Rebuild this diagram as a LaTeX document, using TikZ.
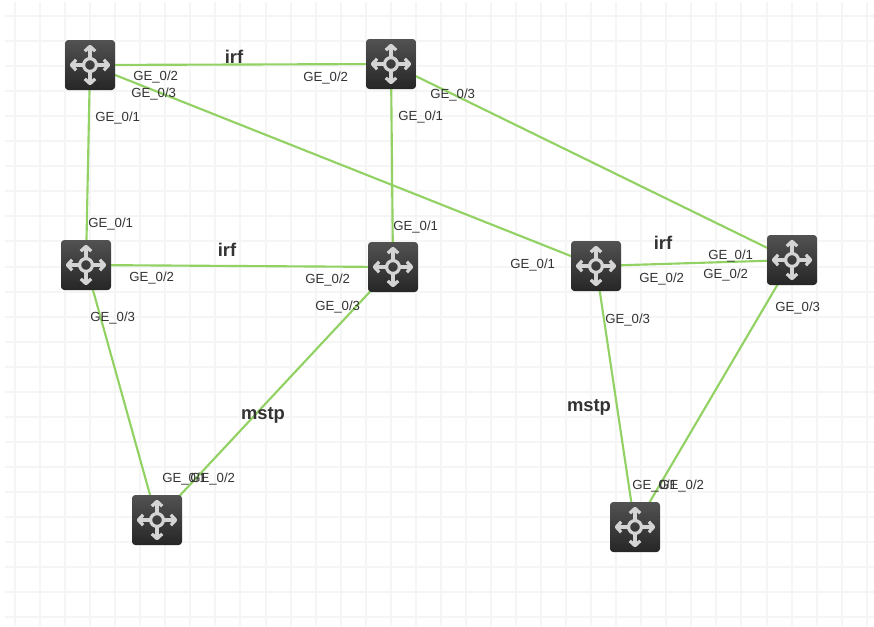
\documentclass[tikz,border=0pt]{standalone}
\usepackage{fontspec}
\setmainfont{Liberation Sans}
\usetikzlibrary{backgrounds}
\definecolor{gridc}{HTML}{F5F5F5}
\definecolor{linkc}{HTML}{92D264}
\definecolor{iconc}{HTML}{D4D4D4}
\definecolor{textc}{HTML}{333333}
\tikzset{
  gridline/.style={gridc,line width=1.5pt},
  link/.style={linkc,line width=1.6pt},
  port/.style={font=\fontsize{9.9}{10}\selectfont,text=textc,inner sep=0pt,yshift=-0.75pt,xshift=0.5pt},
  proto/.style={font=\fontsize{13.8}{14}\selectfont\bfseries,text=textc,inner sep=0pt,yshift=-1.2pt},
  router/.style={minimum size=37.5pt,inner sep=0pt,rounded corners=2.5pt,
    top color=black!68,bottom color=black!85},
  iconpart/.style={iconc,line width=2.4pt,line join=round},
}
\begin{document}
\begin{tikzpicture}[x=0.75pt,y=-0.75pt]
\useasboundingbox (0,0) rectangle (874,626);
\node[router] (a) at (90,65) {};
\node[router] (b) at (391,64) {};
\node[router] (c) at (86,265) {};
\node[router] (d) at (393,267) {};
\node[router] (e) at (596,266) {};
\node[router] (f) at (792,260) {};
\node[router] (g) at (157,520) {};
\node[router] (h) at (635,527) {};
\foreach \n in {a,b,c,d,e,f,g,h}{
  \draw[iconpart] (\n.center) circle (4.8pt);
  \foreach \r in {0,90,180,270}{
    \begin{scope}[shift={(\n.center)},rotate=\r]
      \draw[iconpart] (5.2pt,0pt) -- (13.6pt,0pt);
      \draw[iconpart] (10.4pt,3.9pt) -- (14pt,0pt) -- (10.4pt,-3.9pt);
    \end{scope}
  }
}
\begin{scope}[on background layer]
  \fill[white] (0,0) rectangle (874,626);
  \clip (0,0) rectangle (874,626);
  \foreach \k in {0,...,34}{
    \draw[gridline] ({15+25.05*\k},2) -- ({15+25.05*\k},626);
  }
  \foreach \k in {0,...,24}{
    \draw[gridline] (5,{16+25.05*\k}) -- (874,{16+25.05*\k});
  }
\end{scope}
\begin{scope}[on background layer]
  \draw[link] (a.center) -- (b.center);
  \draw[link] (a.center) -- (c.center);
  \draw[link] (a.center) -- (e.center);
  \draw[link] (b.center) -- (d.center);
  \draw[link] (b.center) -- (f.center);
  \draw[link] (c.center) -- (d.center);
  \draw[link] (c.center) -- (g.center);
  \draw[link] (d.center) -- (g.center);
  \draw[link] (e.center) -- (f.center);
  \draw[link] (e.center) -- (h.center);
  \draw[link] (f.center) -- (h.center);
\end{scope}
\node[port] (l1) at (155,76) {GE\_0/2};
\node[port] (l2) at (153,93) {GE\_0/3};
\node[port] (l3) at (117,117) {GE\_0/1};
\node[proto] (l4) at (234,55) {irf};
\node[port] (l5) at (325,77) {GE\_0/2};
\node[port] (l6) at (452,94) {GE\_0/3};
\node[port] (l7) at (420,116) {GE\_0/1};
\node[port] (l8) at (110,223) {GE\_0/1};
\node[port] (l9) at (415,226) {GE\_0/1};
\node[port] (l10) at (151,277) {GE\_0/2};
\node[proto] (l11) at (227,248) {irf};
\node[port] (l12) at (327,279) {GE\_0/2};
\node[port] (l13) at (337,306) {GE\_0/3};
\node[port] (l14) at (112,317) {GE\_0/3};
\node[proto] (l15) at (263,414) {mstp};
\node[port] (l16) at (184,478) {GE\_0/1};
\node[port] (l17) at (212,478) {GE\_0/2};
\node[port] (l18) at (532,264) {GE\_0/1};
\node[proto] (l19) at (663,241) {irf};
\node[port] (l20) at (661,278) {GE\_0/2};
\node[port] (l21) at (730,255) {GE\_0/1};
\node[port] (l22) at (725,274) {GE\_0/2};
\node[port] (l23) at (797,307) {GE\_0/3};
\node[port] (l24) at (627,319) {GE\_0/3};
\node[proto] (l25) at (589,406) {mstp};
\node[port] (l26) at (654,485) {GE\_0/1};
\node[port] (l27) at (681,485) {GE\_0/2};
\end{tikzpicture}
\end{document}
